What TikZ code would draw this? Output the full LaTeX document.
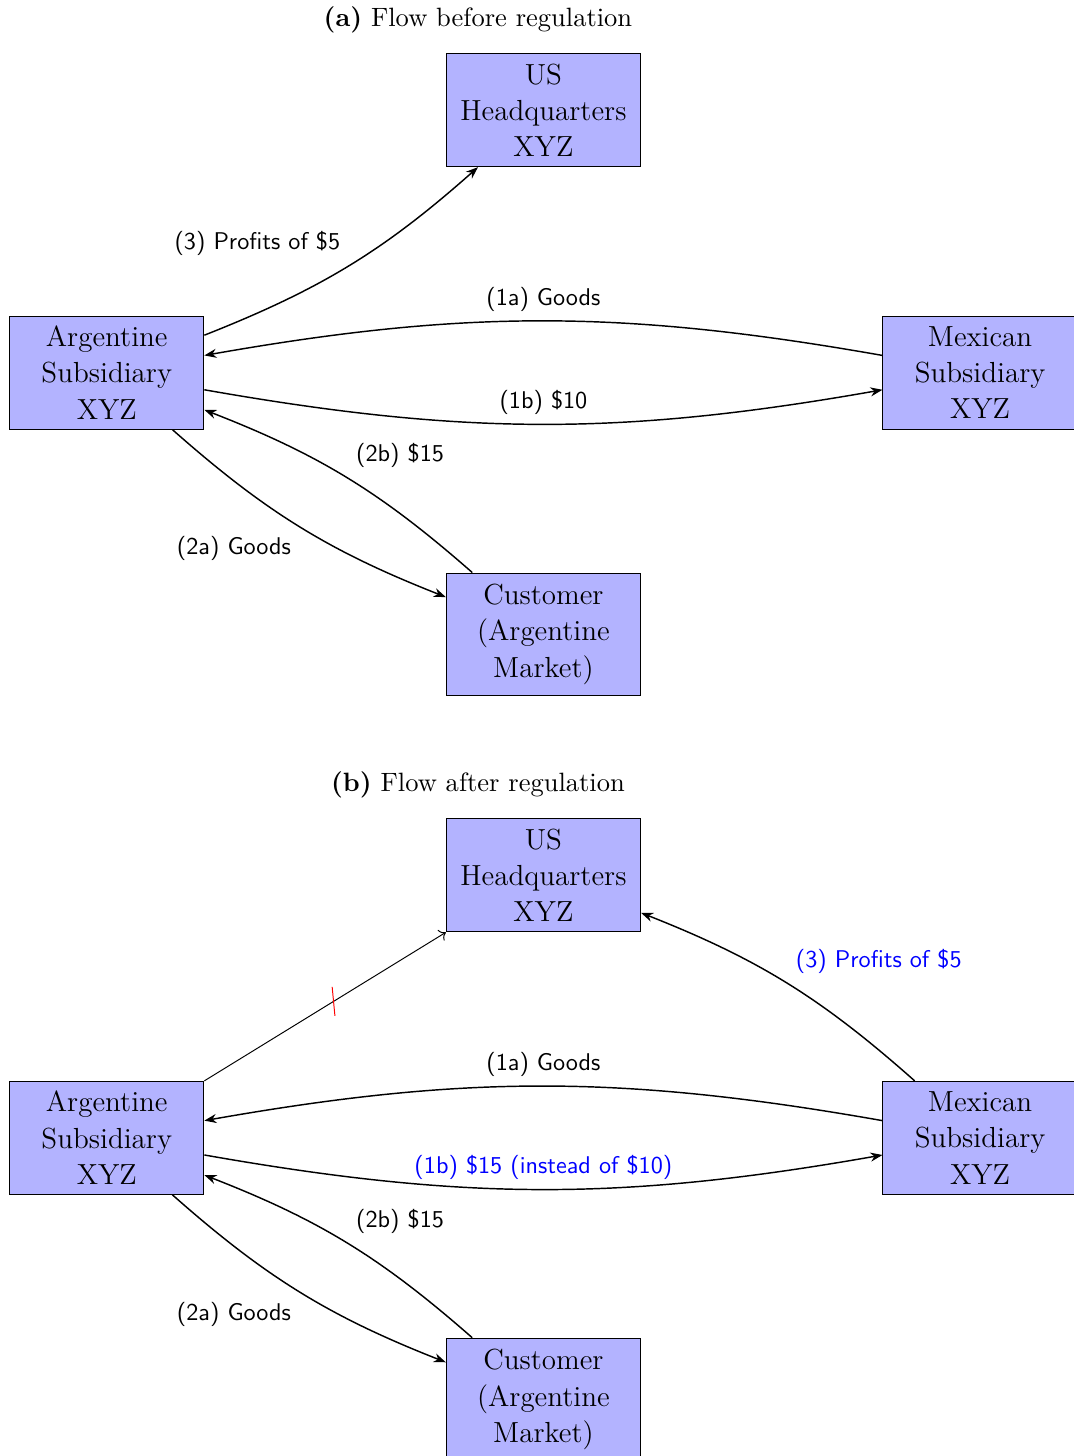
\documentclass[tikz,border=0pt,11pt]{standalone}
\usetikzlibrary{arrows.meta,calc}
\definecolor{boxfill}{HTML}{B3B3FF}
\definecolor{note}{HTML}{0000FF}
\newcommand{\PanelDrop}{11.11}
\newcommand{\BoxW}{2.82}
\newcommand{\BoxH}{1.64}

\begin{document}
\begin{tikzpicture}[
    firm/.style={draw, fill=boxfill, minimum width=\BoxW cm, minimum height=\BoxH cm, align=center, inner sep=2pt, font=\fontsize{12}{15}\selectfont},
    flow/.style={-{Stealth[length=5pt]}, semithick, bend right=10},
    tag/.style={font=\sffamily\small},
  ]
% --- Frame --------------------------------------------------------------------
\useasboundingbox (0,0) rectangle (15.58,-21.14);

% --- Both panels: caption, the four firms, the flows they share ----------------
\foreach \p/\dy/\when in {a/0/before, b/-\PanelDrop/after} {
  \node (cap\p) at (6.94,\dy-0.29) {\textbf{(\p)} Flow \when\ regulation};
  \node[firm] (us\p) at (7.89,\dy-1.60) {US\\Headquarters\\XYZ};
  \node[firm] (arg\p) at (1.55,\dy-5.41) {Argentine\\Subsidiary\\XYZ};
  \node[firm] (mex\p) at (14.23,\dy-5.41) {Mexican\\Subsidiary\\XYZ};
  \node[firm, minimum height=\BoxH cm+4pt] (cust\p) at (7.89,\dy-9.21) {Customer\\(Argentine\\Market)};
  \draw[flow] (mex\p) to node[tag, above] {(1a) Goods} (arg\p);
  \draw[flow] (arg\p) to node[tag, below left] {(2a) Goods} (cust\p);
  \draw[flow] (cust\p) to node[tag, above right] {(2b) \$15} (arg\p);
}

% --- (a) before: profits go home ---------------------------------------------
\draw[flow] (arga) to node[tag, above left] {(3) Profits of \$5} (usa);
\draw[flow] (arga) to node[tag, above] {(1b) \$10} (mexa);

% --- (b) after: profits leave through Mexico ---------------------------------
\draw[->] (argb.north east) -- coordinate[pos=0.535] (cut) (usb.south west);
\draw[red] ($(cut)+(-0.02,0.21)$) -- ($(cut)+(0.02,-0.21)$);
\draw[flow] (mexb) to node[tag, above right, text=note] {(3) Profits of \$5} (usb);
\draw[flow] (argb) to node[tag, above, text=note] {(1b) \$15 (instead of \$10)} (mexb);
\end{tikzpicture}
\end{document}
